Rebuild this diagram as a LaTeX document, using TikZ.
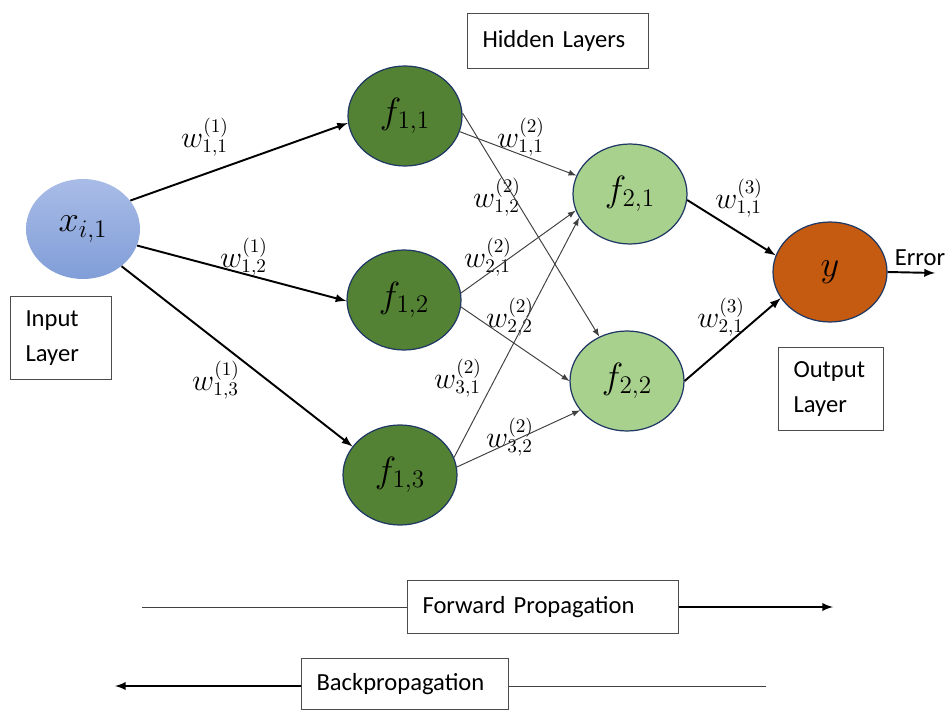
\documentclass[tikz,border=0pt]{standalone}
\usepackage{fontspec}
\setmainfont{Carlito}
\usetikzlibrary{arrows,shapes.geometric}
\definecolor{inbluetop}{HTML}{A8BCE6}
\definecolor{inbluebot}{HTML}{819ED8}
\definecolor{hiddark}{HTML}{548235}
\definecolor{hidlight}{HTML}{A9D18E}
\definecolor{outorange}{HTML}{C55A11}
\definecolor{rim}{HTML}{203864}
\tikzset{
  neur/.style={ellipse, minimum width=2.28cm, minimum height=2cm, inner sep=0pt, font=\fontsize{20}{22}\selectfont},
  inneur/.style={neur, draw=none, top color=inbluetop, bottom color=inbluebot},
  hidA/.style={neur, draw=rim, line width=0.7pt, fill=hiddark},
  hidB/.style={neur, draw=rim, line width=0.7pt, fill=hidlight},
  outneur/.style={neur, draw=rim, line width=0.7pt, fill=outorange},
  laybox/.style={rectangle, draw=black!70, line width=0.6pt, fill=white, inner xsep=0.3cm, align=left, font=\fontsize{14}{20}\selectfont},
  wlab/.style={inner sep=1pt, font=\fontsize{16}{18}\selectfont},
  strong/.style={color=black, line width=1.1pt},
  weak/.style={color=black!75, line width=0.55pt},
}
\begin{document}
\begin{tikzpicture}[x=0.02cm, y=-0.02cm, >=latex]
   \useasboundingbox (0,0) rectangle (945,709);
   % neurons
   \node[inneur] (x) at (83,229) {$x_{i,1}$};
   \node[hidA] (f11) at (405,116) {$f_{1,1}$};
   \node[hidA] (f12) at (404,300) {$f_{1,2}$};
   \node[hidA] (f13) at (400,475) {$f_{1,3}$};
   \node[hidB] (f21) at (630,194) {$f_{2,1}$};
   \node[hidB] (f22) at (627,381) {$f_{2,2}$};
   \node[outneur] (y) at (830,272) {$y$};
   % layer boxes
   \node[laybox, text width=3.02cm, minimum height=1.1cm] (hid) at (558,41) {Hidden Layers};
   \node[laybox, text width=1.42cm, minimum height=1.66cm] (inl) at (61,338) {Input\\Layer};
   \node[laybox, text width=1.5cm, minimum height=1.66cm] (outl) at (831,389) {Output\\Layer};
   % weights
   \node[wlab] (w111) at (205,137) {$w^{(1)}_{1,1}$};
   \node[wlab] (w112) at (244,257) {$w^{(1)}_{1,2}$};
   \node[wlab] (w113) at (216,380) {$w^{(1)}_{1,3}$};
   \node[wlab] (w211) at (521,137) {$w^{(2)}_{1,1}$};
   \node[wlab] (w212) at (497,197) {$w^{(2)}_{1,2}$};
   \node[wlab] (w221) at (488,257) {$w^{(2)}_{2,1}$};
   \node[wlab] (w222) at (510,317) {$w^{(2)}_{2,2}$};
   \node[wlab] (w231) at (458,378) {$w^{(2)}_{3,1}$};
   \node[wlab] (w232) at (510,437) {$w^{(2)}_{3,2}$};
   \node[wlab] (w311) at (739,198) {$w^{(3)}_{1,1}$};
   \node[wlab] (w321) at (721,317) {$w^{(3)}_{2,1}$};
   % error
   \node[inner sep=0pt, font=\fontsize{14}{16}\selectfont] (errl) at (920,258) {Error};
   \coordinate (err) at (935,273);

  \path[->, strong]
    (x.31) edge (f11.187)
    (x.343) edge (f12.181)
    (x.316) edge (f13.149)
    (f21.354) edge (y.163)
    (f22.0) edge (y.208)
    (y.east) edge (err);
  \path[->, weak]
    (f11.344) edge (f21.161)
    (f11.3) edge (f22.122)
    (f12.7) edge (f21.197)
    (f12.353) edge (f22.180)
    (f13.18) edge (f21.205)
    (f13.8) edge (f22.212);

   % propagation
   \node[laybox, text width=4.82cm, minimum height=1.06cm] (fwd) at (543,607) {Forward Propagation};
   \node[laybox, text width=3.54cm, minimum height=1.02cm] (bwd) at (405,684) {Backpropagation};
   \coordinate (fws) at (142,607);
   \coordinate (fwe) at (833,607);
   \coordinate (bws) at (766,686);
   \coordinate (bwe) at (115,686);
   \draw[weak] (fws) -- (fwd.west |- fws);
   \draw[->, strong] (fwd.east |- fwe) -- (fwe);
   \draw[weak] (bws) -- (bwd.east |- bws);
   \draw[->, strong] (bwd.west |- bwe) -- (bwe);
\end{tikzpicture}
\end{document}
